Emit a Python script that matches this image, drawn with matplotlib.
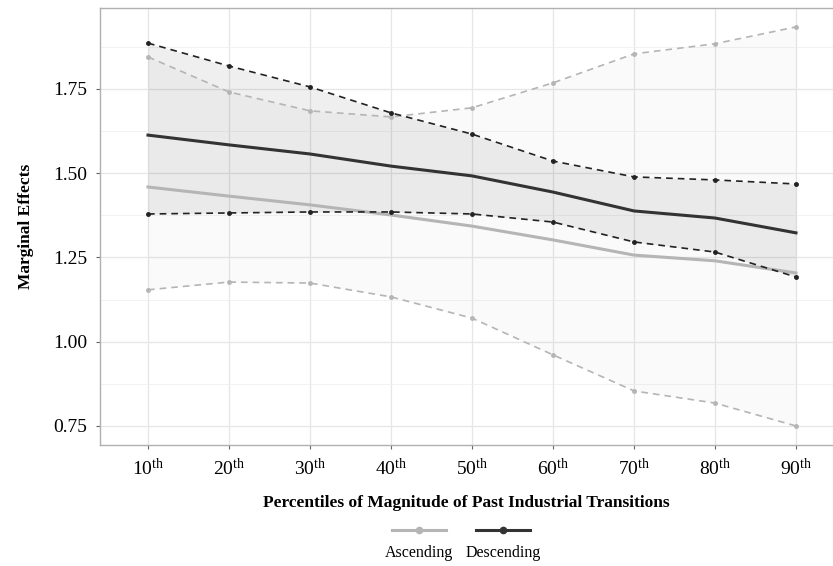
import matplotlib.pyplot as plt
from matplotlib.lines import Line2D

plt.rcParams['font.family'] = 'Liberation Serif'
plt.rcParams['mathtext.fontset'] = 'custom'
plt.rcParams['mathtext.rm'] = 'Liberation Serif'

# percentiles of magnitude of past industrial transitions
percentiles = [10, 20, 30, 40, 50, 60, 70, 80, 90]
tick_labels = [r'$\mathrm{%d^{th}}$' % p for p in percentiles]

# ascending
asc_mean = [1.459, 1.432, 1.406, 1.376, 1.343, 1.302, 1.257, 1.240, 1.204]
asc_upper = [1.845, 1.741, 1.685, 1.667, 1.694, 1.768, 1.854, 1.884, 1.934]
asc_lower = [1.154, 1.177, 1.174, 1.133, 1.070, 0.961, 0.854, 0.818, 0.750]

# descending
desc_mean = [1.613, 1.584, 1.557, 1.521, 1.492, 1.444, 1.388, 1.367, 1.323]
desc_upper = [1.886, 1.818, 1.756, 1.679, 1.616, 1.536, 1.489, 1.480, 1.468]
desc_lower = [1.379, 1.382, 1.385, 1.385, 1.379, 1.355, 1.296, 1.266, 1.192]

asc_col = '#b5b5b5'
desc_col = '#333333'

fig = plt.figure(figsize=(8.33, 5.66), dpi=100)
ax = fig.add_axes([0.12, 0.2138, 0.88, 0.772])

ax.fill_between(percentiles, asc_lower, asc_upper, color='black', alpha=0.02, lw=0, zorder=1)
ax.fill_between(percentiles, desc_lower, desc_upper, color='black', alpha=0.062, lw=0, zorder=1)

ax.plot(percentiles, asc_upper, color=asc_col, ls=(0, (4, 3)), lw=1.2, marker='o', ms=2.5, zorder=3)
ax.plot(percentiles, asc_lower, color=asc_col, ls=(0, (4, 3)), lw=1.2, marker='o', ms=2.5, zorder=3)
ax.plot(percentiles, asc_mean, color=asc_col, lw=2.2, zorder=3)

ax.plot(percentiles, desc_upper, color='#222222', ls=(0, (4, 3)), lw=1.2, marker='o', ms=2.5, zorder=4)
ax.plot(percentiles, desc_lower, color='#222222', ls=(0, (4, 3)), lw=1.2, marker='o', ms=2.5, zorder=4)
ax.plot(percentiles, desc_mean, color=desc_col, lw=2.2, zorder=4)

ax.set_xlim(4.07, 94.57)
ax.set_ylim(0.6936, 1.99)
ax.set_xticks(percentiles)
ax.set_xticklabels(tick_labels, fontsize=14)
ax.set_yticks([0.75, 1.00, 1.25, 1.50, 1.75])
ax.set_yticklabels(['0.75', '1.00', '1.25', '1.50', '1.75'], fontsize=14)
ax.set_yticks([0.875, 1.125, 1.375, 1.625, 1.875], minor=True)
ax.grid(True, which='major', color='#e6e6e6', lw=0.9, zorder=0)
ax.grid(True, which='minor', axis='y', color='#f0f0f0', lw=0.6, zorder=0)
ax.tick_params(which='minor', length=0)
ax.tick_params(which='major', length=3, width=0.8, color='#666666', pad=6)
ax.set_axisbelow(True)
for side in ['left', 'top', 'bottom']:
    ax.spines[side].set_color('#b0b0b0')
    ax.spines[side].set_linewidth(1.0)
ax.spines['right'].set_visible(False)

ax.set_xlabel('Percentiles of Magnitude of Past Industrial Transitions',
              fontsize=12.5, fontweight='bold', labelpad=12)
ax.set_ylabel('Marginal Effects', fontsize=12.5, fontweight='bold', labelpad=14)

# legend, keys above labels
H = 566.0
W = 833.0
for cx, col, lab in [(419, asc_col, 'Ascending'), (503, desc_col, 'Descending')]:
    fig.add_artist(Line2D([(cx - 27) / W, (cx + 27) / W], [1 - 530 / H] * 2,
                          color=col, lw=2.2, transform=fig.transFigure))
    fig.add_artist(Line2D([cx / W], [1 - 530 / H], color=col, marker='o', ms=4.5,
                          transform=fig.transFigure))
    fig.text(cx / W, 1 - 553 / H, lab, ha='center', va='center', fontsize=11.5)

fig.savefig('out.png', dpi=100)
